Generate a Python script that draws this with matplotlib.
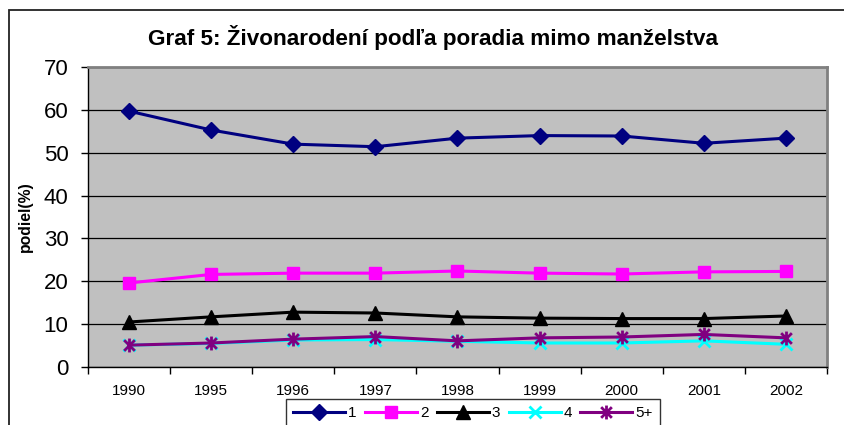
import matplotlib
matplotlib.use("Agg")
import matplotlib.pyplot as plt
from matplotlib.path import Path
from matplotlib.patches import Rectangle

plt.rcParams['font.family'] = ['Liberation Sans', 'DejaVu Sans']

years = ['1990', '1995', '1996', '1997', '1998', '1999', '2000', '2001', '2002']
series_names = ['1', '2', '3', '4', '5+']
s1 = [59.7, 55.3, 52.0, 51.4, 53.4, 54.0, 53.9, 52.2, 53.4]
s2 = [19.6, 21.6, 21.9, 21.9, 22.4, 21.9, 21.7, 22.2, 22.3]
s3 = [10.5, 11.7, 12.8, 12.6, 11.7, 11.4, 11.3, 11.3, 11.9]
s4 = [5.1, 5.5, 6.3, 6.4, 6.0, 5.6, 5.6, 6.1, 5.3]
s5 = [5.1, 5.6, 6.5, 7.1, 6.1, 6.8, 7.0, 7.6, 6.8]
yticks = [0, 10, 20, 30, 40, 50, 60, 70]

star = Path([(-1, -1), (1, 1), (-1, 1), (1, -1), (0, -1.3), (0, 1.3)],
            [Path.MOVETO, Path.LINETO, Path.MOVETO, Path.LINETO, Path.MOVETO, Path.LINETO])

styles = [
    dict(color='#000080', marker='D', ms=8.5, mfc='#000080', mec='#000080'),
    dict(color='#FF00FF', marker='s', ms=9, mfc='#FF00FF', mec='#FF00FF'),
    dict(color='#000000', marker='^', ms=10, mfc='#000000', mec='#000000'),
    dict(color='#00FFFF', marker='x', ms=9, mew=2, mec='#00FFFF'),
    dict(color='#800080', marker=star, ms=10, mew=2, mec='#800080'),
]

fig = plt.figure(figsize=(8.44, 4.25), dpi=100)
fig.patches.append(Rectangle((9 / 844, -0.1), 1.1, 1 - 10 / 425 + 0.1, transform=fig.transFigure,
                             fill=False, edgecolor='#222222', linewidth=1.3))

ax = fig.add_axes([88 / 844, 1 - 367 / 425, (827 - 88) / 844, (367 - 67) / 425])
ax.set_facecolor('#C0C0C0')

x = list(range(len(years)))
for name, vals, st in zip(series_names, [s1, s2, s3, s4, s5], styles):
    ax.plot(x, vals, lw=2.2, label=name, **st)

ax.set_ylim(0, 70)
ax.set_yticks(yticks)
ax.set_xlim(-0.5, len(years) - 0.5)
ax.set_xticks([i - 0.5 for i in range(len(years) + 1)])
ax.set_xticklabels([])
ax.set_xticks(x, minor=True)
ax.set_xticklabels(years, minor=True, fontsize=11)
ax.tick_params(axis='x', which='major', direction='out', length=5, width=1, color='black')
ax.tick_params(axis='x', which='minor', length=0, pad=12)
ax.tick_params(axis='y', direction='out', length=5, width=1, labelsize=16, pad=9)

ax.grid(axis='y', color='#000000', linewidth=0.9)
ax.set_axisbelow(True)
for side in ['top', 'right']:
    ax.spines[side].set_color('#808080')
    ax.spines[side].set_linewidth(2)
for side in ['left', 'bottom']:
    ax.spines[side].set_color('#000000')
    ax.spines[side].set_linewidth(1)

fig.text(433 / 844, 1 - 37 / 425, 'Graf 5: Živonarodení podľa poradia mimo manželstva',
         ha='center', va='center', fontsize=16.2, fontweight='bold')
fig.text(25 / 844, 1 - 217 / 425, 'podiel(%)', rotation=90, ha='center', va='center',
         fontsize=11.3, fontweight='bold')

leg = fig.legend(loc='upper left', bbox_to_anchor=(286 / 844, 1 - 399 / 425), ncol=5,
                 fontsize=11, frameon=True, fancybox=False, edgecolor='black',
                 handlelength=3.4, handletextpad=0.2, columnspacing=0.55,
                 borderpad=0.45, borderaxespad=0)
leg.get_frame().set_linewidth(1)

fig.savefig('out.png', dpi=100)
